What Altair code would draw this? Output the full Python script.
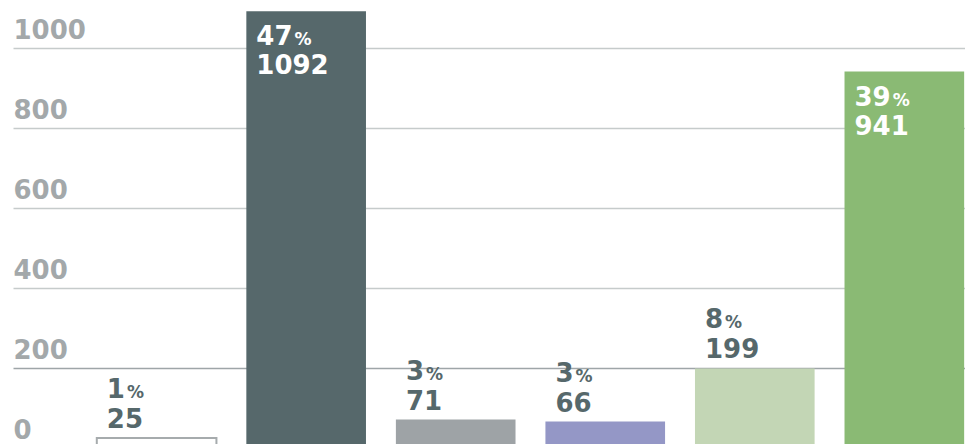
import altair as alt
import pandas as pd

# ---- data ----
categories = ["Cat 1", "Cat 2", "Cat 3", "Cat 4", "Cat 5", "Cat 6"]
counts = [25, 1092, 71, 66, 199, 941]
percents = [1, 47, 3, 3, 8, 39]
y_ticks = [0, 200, 400, 600, 800, 1000]

# ---- styles ----
fill_colors = ["#ffffff", "#56686b", "#9ea3a6", "#9497c6", "#c3d6b5", "#8aba74"]
OUTLINE = "#a6abad"
DARK = "#56686b"
AXIS_GRAY = "#a3a8aa"
FONT = "DejaVu Sans"
FS = 26
PCT_FS = 17
DIGIT_W = 0.696 * FS
LABEL_DX = 10

df = pd.DataFrame({"cat": categories, "count": counts, "pct": percents})
df["pct_text"] = df["pct"].astype(str)
df["count_text"] = df["count"].astype(str)
df["digits"] = df["pct_text"].str.len()

xscale = alt.Scale(domain=categories, paddingInner=0.2, paddingOuter=0.283, align=0.99)
yscale = alt.Scale(domain=[0, 1100], nice=False, zero=True)

x_bar = alt.X("cat:N", scale=xscale, axis=None, sort=categories)
x_left = alt.X("cat:N", scale=xscale, axis=None, sort=categories, bandPosition=0)
y_enc = alt.Y(
    "count:Q",
    scale=yscale,
    title=None,
    axis=alt.Axis(
        values=y_ticks,
        format="d",
        orient="left",
        domain=False,
        ticks=False,
        tickSize=0,
        labelPadding=0,
        labelAlign="left",
        labelBaseline="alphabetic",
        labelOffset=-10,
        labelFont=FONT,
        labelFontWeight="bold",
        labelFontSize=FS,
        labelColor=AXIS_GRAY,
        labelFlush=False,
        labelOverlap=False,
        grid=True,
        gridColor=alt.condition("datum.value == 200", alt.value("#9ea5a8"), alt.value("#c6cbcb")),
        gridWidth=1.5,
    ),
)

base = alt.Chart(df)

bars = base.mark_bar(strokeWidth=2).encode(
    x=x_bar,
    y=y_enc,
    fill=alt.Fill("cat:N", scale=alt.Scale(domain=categories, range=fill_colors), legend=None),
    stroke=alt.condition(alt.datum.cat == categories[0], alt.value(OUTLINE), alt.value("transparent")),
)


def label_layers(test, color, dy_pct, dy_val):
    out = []
    sub = base.transform_filter(test)
    out.append(
        sub.mark_text(align="left", baseline="alphabetic", dx=LABEL_DX, dy=dy_pct, font=FONT,
                      fontWeight="bold", fontSize=FS, color=color)
        .encode(x=x_left, y=y_enc, text="pct_text:N")
    )
    out.append(
        sub.mark_text(align="left", baseline="alphabetic", dx=LABEL_DX, dy=dy_val, font=FONT,
                      fontWeight="bold", fontSize=FS, color=color)
        .encode(x=x_left, y=y_enc, text="count_text:N")
    )
    for nd in (1, 2):
        out.append(
            sub.transform_filter(f"datum.digits == {nd}")
            .mark_text(align="left", baseline="alphabetic", dx=LABEL_DX + nd * DIGIT_W + 2, dy=dy_pct,
                       font=FONT, fontWeight="bold", fontSize=PCT_FS, color=color, text="%")
            .encode(x=x_left, y=y_enc)
        )
    return out


layers = [bars]
layers += label_layers("datum.count <= 500", DARK, -40, -10)
layers += label_layers("datum.count > 500", "#ffffff", 34, 63)

chart = (
    alt.layer(*layers)
    .properties(
        width=952,
        height=440,
        autosize=alt.AutoSizeParams(type="none"),
        padding={"left": 5, "top": 0, "right": 0, "bottom": 0},
    )
    .configure_view(stroke=None)
)

chart.save("out.html", embed_options={"renderer": "svg", "actions": False})
